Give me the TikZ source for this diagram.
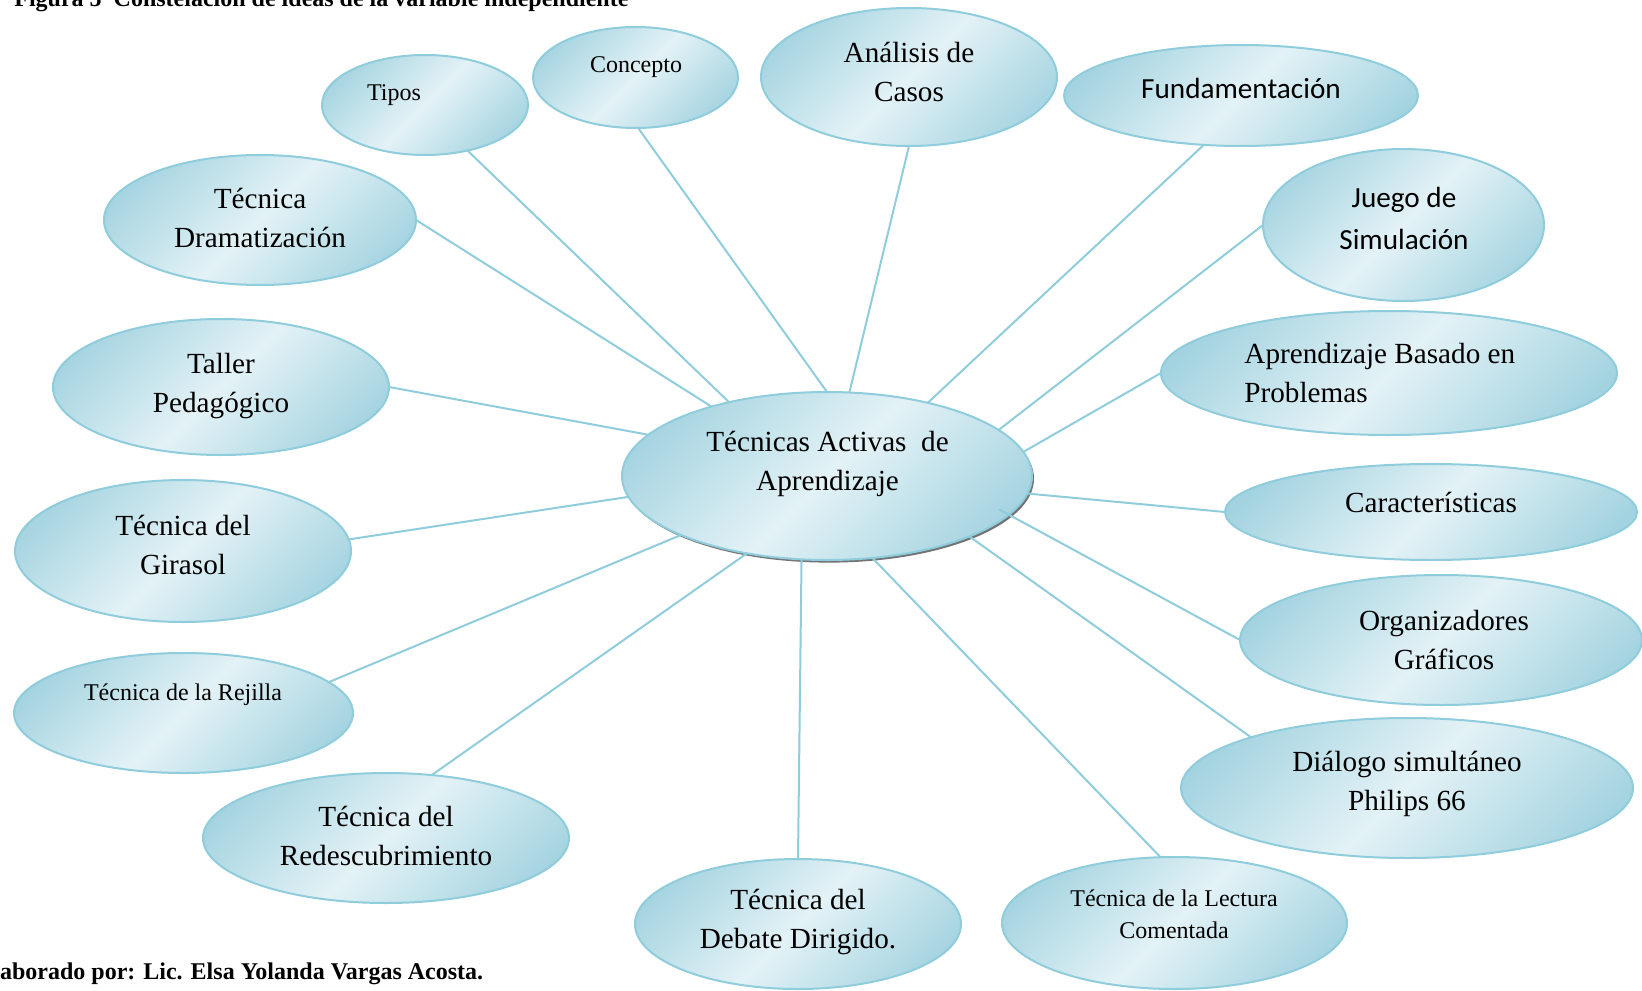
\documentclass[tikz,border=0pt]{standalone}
\usepackage{fontspec}
\setmainfont{Liberation Serif}
\newfontfamily\calib{Carlito}
\usetikzlibrary{shapes.geometric,shadows,calc}
\definecolor{edgeblue}{HTML}{8FCCDC}
\definecolor{dkblue}{HTML}{A3D3E0}
\definecolor{ltblue}{HTML}{E3F2F6}
\pgfdeclarehorizontalshading{bubshade}{100bp}{color(0bp)=(dkblue); color(22bp)=(dkblue); color(50bp)=(ltblue); color(78bp)=(dkblue); color(100bp)=(dkblue)}
\begin{document}
\begin{tikzpicture}[x=0.5pt,y=-0.5pt,
 bub/.style 2 args={ellipse, draw=edgeblue, line width=1pt, shade, shading=bubshade, shading angle=-45, minimum width=#1pt, minimum height=#2pt, inner sep=0pt, outer sep=0pt},
 big/.style={font=\fontsize{14.6}{19.5}\selectfont, align=center, inner sep=0pt},
 small/.style={font=\fontsize{12}{16.2}\selectfont, align=center, inner sep=0pt},
 sans/.style={font=\calib\fontsize{14.6}{21}\selectfont, align=center, inner sep=0pt},
 caption/.style={font=\fontsize{12}{14}\selectfont\bfseries, inner sep=0pt, anchor=base west},
 link/.style={draw=edgeblue, line width=1pt}]
\useasboundingbox (0,0) rectangle (1642,990);

% title and credit
\node[caption] (title) at (14,7) {Figura 5\ \ Constelación de ideas de la variable independiente};
\node[caption] (credit) at (-23,979) {Elaborado por: Lic. Elsa Yolanda Vargas Acosta.};

% central
\node[bub={205}{84}, drop shadow={shadow xshift=1pt, shadow yshift=-1.3pt, fill=black!55, opacity=1}] (c) at (827,476) {};

% outer ellipses
\node[bub={103}{50}] (tipos) at (425,105) {};
\node[bub={102.5}{50.5}] (conc) at (635.5,77.5) {};
\node[bub={148}{69}] (anal) at (909,77) {};
\node[bub={177}{50.5}] (fund) at (1241,95.5) {};
\node[bub={140.5}{76}] (juego) at (1403.5,225) {};
\node[bub={228}{62}] (abp) at (1389,373) {};
\node[bub={206}{48}] (car) at (1431,512) {};
\node[bub={201}{65}] (org) at (1441,640) {};
\node[bub={226}{70}] (dial) at (1407,788) {};
\node[bub={172.5}{66}] (lect) at (1174.5,923) {};
\node[bub={163}{65}] (deb) at (798,924) {};
\node[bub={183}{65}] (redesc) at (386,838) {};
\node[bub={169.5}{60}] (rej) at (183.5,713) {};
\node[bub={168}{71}] (gir) at (183,551) {};
\node[bub={168}{68}] (tall) at (221,387) {};
\node[bub={156}{65}] (dram) at (260,220) {};

% texts
\node[big] (c-t) at (827.5,463.5) {Técnicas Activas\ \ de\\Aprendizaje};
\node[small] (tipos-t) at (394,95) {Tipos};
\node[small] (conc-t) at (636,67) {Concepto};
\node[big] (anal-t) at (909,72) {Análisis de\\Casos};
\node[sans] (fund-t) at (1241,88) {Fundamentación};
\node[sans] (juego-t) at (1404,218) {Juego de\\Simulación};
\node[big, align=left, anchor=west] (abp-t) at (1244,373.5) {Aprendizaje Basado en\\Problemas};
\node[big] (car-t) at (1431,502) {Características};
\node[big] (org-t) at (1444,640) {Organizadores\\Gráficos};
\node[big] (dial-t) at (1407,784) {Diálogo simultáneo\\Philips 66};
\node[small] (lect-t) at (1174,914) {Técnica de la Lectura\\Comentada};
\node[big] (deb-t) at (798,922) {Técnica del\\Debate Dirigido.};
\node[big] (redesc-t) at (386,836) {Técnica del\\Redescubrimiento};
\node[small] (rej-t) at (183,695) {Técnica de la Rejilla};
\node[big] (gir-t) at (183,545) {Técnica del\\Girasol};
\node[big] (tall-t) at (221,386) {Taller\\Pedagógico};
\node[big] (dram-t) at (260,218) {Técnica\\Dramatización};

% connectors
\draw[link] (c.143.8) -- (tipos.-47.1);
\draw[link] (c.90.7) -- (conc.-87.2);
\draw[link] (c.75.2) -- (anal.-90);
\draw[link] (c.36) -- (fund.-127.8);
\draw[link] (c.15.2) -- (juego.180);
\draw[link] (c.7.6) -- (abp.180);
\draw[link] (c.-5.3) -- (car.180);
\draw[link] ($(c)!0.93!(c.-11.6)$) -- (org.180);
\draw[link] (c.-23.2) -- (dial.162.7);
\draw[link] (c.-61.7) -- (lect.102.4);
\draw[link] (c.-107.5) -- (deb.90);
\draw[link] (c.-136.6) -- (redesc.54);
\draw[link] (c.-158.5) -- (rej.12.4);
\draw[link] (c.-174.7) -- (gir.4.7);
\draw[link] (c.167.2) -- (tall.0);
\draw[link] (c.149.1) -- (dram.0);
\end{tikzpicture}
\end{document}
